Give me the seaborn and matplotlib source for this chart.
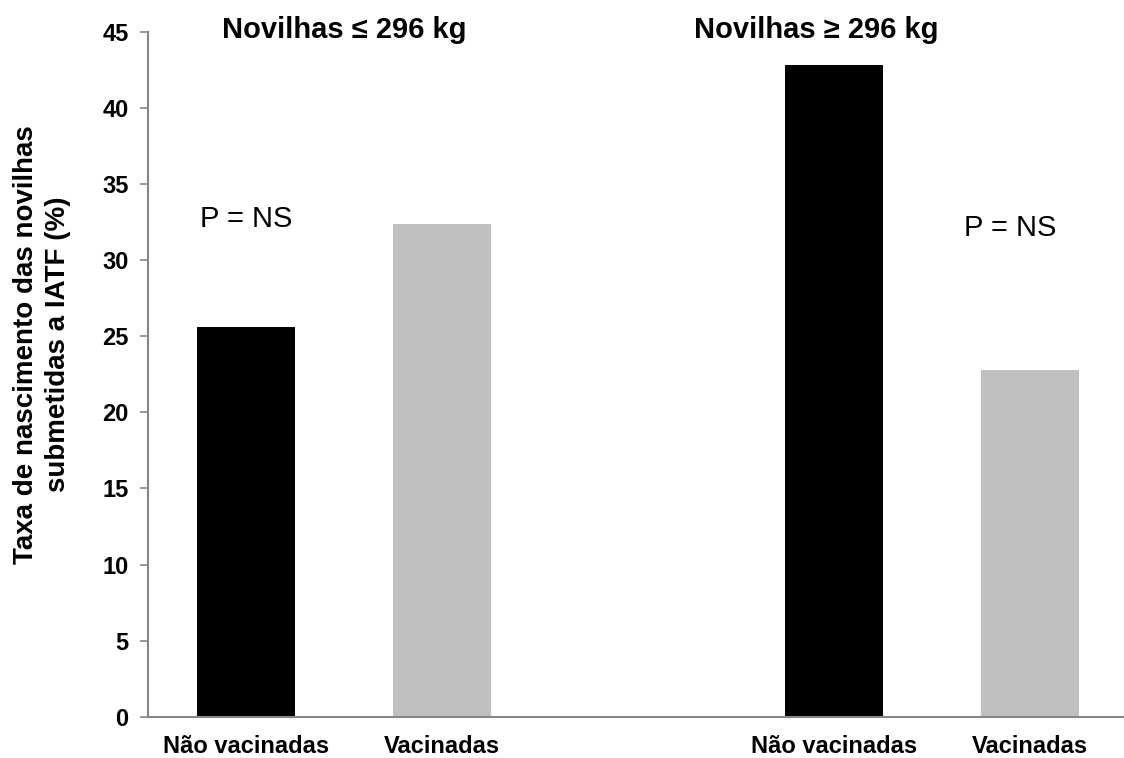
import pandas as pd
import matplotlib
matplotlib.use("Agg")
import matplotlib.pyplot as plt
import seaborn as sns

# Dados do grafico
grupos = ["nv_leve", "v_leve", "nv_pesada", "v_pesada"]
taxa = [25.6, 32.4, 42.8, 22.8]
ordem = ["nv_leve", "v_leve", "vazio", "nv_pesada", "v_pesada"]
rotulos = ["Não vacinadas", "Vacinadas", "", "Não vacinadas", "Vacinadas"]
titulos = ["Novilhas ≤ 296 kg", "Novilhas ≥ 296 kg"]
cores = {"nv_leve": "#000000", "v_leve": "#BFBFBF",
         "nv_pesada": "#000000", "v_pesada": "#BFBFBF"}

df = pd.DataFrame({"grupo": grupos, "taxa": taxa})

sns.set_style("white")
plt.rcParams['font.family'] = ['Liberation Sans', 'DejaVu Sans']
plt.rcParams['text.color'] = 'black'
plt.rcParams['xtick.color'] = 'black'
plt.rcParams['ytick.color'] = 'black'

fig = plt.figure(figsize=(11.24, 7.58), dpi=100)
ax = fig.add_axes([0.1317, 0.0545, 0.8683, 0.9033])

sns.barplot(data=df, x="grupo", y="taxa", order=ordem, hue="grupo",
            palette=cores, width=0.5, saturation=1, legend=False,
            linewidth=0, ax=ax)

ax.set_xlim(-0.5, 4.48)
ax.set_ylim(0, 45)
ax.set_yticks(range(0, 46, 5))
ax.set_xticks(range(5))
ax.set_xticklabels(rotulos, fontsize=17, fontweight="bold", color="black")
ax.tick_params(axis="x", length=0, pad=13)
ax.tick_params(axis="y", length=6, width=1.2, color="#868686", pad=8,
               labelsize=17, labelcolor="black", direction="out", left=True)
for lab in ax.get_yticklabels():
    lab.set_fontweight("bold")
ax.set_xlabel("")
ax.set_ylabel("")

for s in ["top", "right"]:
    ax.spines[s].set_visible(False)
for s in ["left", "bottom"]:
    ax.spines[s].set_color("#868686")
    ax.spines[s].set_linewidth(1.5)

# titulos dos grupos
ax.text(0.5, 45.1, titulos[0], ha="center", va="center", fontsize=21,
        fontweight="bold", clip_on=False)
ax.text(2.91, 45.1, titulos[1], ha="center", va="center", fontsize=21,
        fontweight="bold", clip_on=False)

# P = NS
ax.text(0.0, 32.7, "P = NS", ha="center", va="center", fontsize=21)
ax.text(3.9, 32.15, "P = NS", ha="center", va="center", fontsize=21)

fig.text(0.0374, 0.546, "Taxa de nascimento das novilhas\nsubmetidas a IATF (%)",
         rotation=90, ha="center", va="center", multialignment="center",
         fontsize=20, fontweight="bold", linespacing=1.3)

plt.savefig("out.png", dpi=100)
